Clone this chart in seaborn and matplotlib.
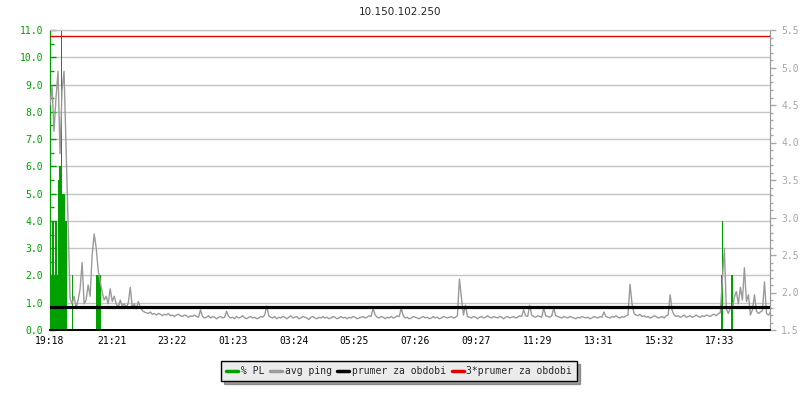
import numpy as np
import matplotlib
matplotlib.use("Agg")
import matplotlib.pyplot as plt
from matplotlib.lines import Line2D
from matplotlib.ticker import MultipleLocator
import seaborn as sns

# avg ping (ms), one sample every 4 minutes starting at 19:18
ping = [
    # 19:18 - 22:30
    4.50, 4.75, 4.15, 4.60, 4.95, 3.85, 4.70, 4.95, 3.95, 2.95,
    1.92, 1.85, 1.95, 1.80, 1.90, 2.05, 2.40, 1.85, 1.90, 2.10,
    1.95, 2.50, 2.78, 2.60, 2.30, 2.15, 2.00, 1.90, 1.95, 1.85,
    2.05, 1.88, 1.95, 1.85, 1.80, 1.90, 1.82, 1.85, 1.80, 1.86,
    2.07, 1.80, 1.85, 1.78, 1.88, 1.80, 1.76, 1.74,
    # quiet part
    1.73, 1.72, 1.74, 1.71, 1.72, 1.70, 1.72, 1.71, 1.69, 1.71,
    1.70, 1.72, 1.69, 1.70, 1.68, 1.70, 1.71, 1.69, 1.68, 1.70,
    1.69, 1.67, 1.69, 1.68, 1.70, 1.68, 1.67, 1.77, 1.68, 1.66,
    1.67, 1.69, 1.66, 1.68, 1.67, 1.65, 1.67, 1.68, 1.66, 1.67,
    1.75, 1.68, 1.66, 1.67, 1.65, 1.68, 1.66, 1.67, 1.69, 1.66,
    1.65, 1.67, 1.68, 1.66, 1.67, 1.65, 1.66, 1.68, 1.67, 1.70,
    1.82, 1.69, 1.67, 1.66, 1.68, 1.65, 1.67, 1.66, 1.68, 1.67,
    1.65, 1.67, 1.69, 1.66, 1.67, 1.68, 1.65, 1.66, 1.68, 1.67,
    1.66, 1.64, 1.67, 1.68, 1.66, 1.65, 1.67, 1.66, 1.68, 1.66,
    1.67, 1.65, 1.66, 1.68, 1.67, 1.65, 1.66, 1.68, 1.66, 1.67,
    1.65, 1.67, 1.66, 1.68, 1.67, 1.65, 1.66, 1.67, 1.68, 1.66,
    1.67, 1.69, 1.68, 1.79, 1.70, 1.67, 1.66, 1.68, 1.67, 1.65,
    1.67, 1.66, 1.68, 1.66, 1.67, 1.69, 1.68, 1.79, 1.69, 1.66,
    1.67, 1.65, 1.66, 1.68, 1.67, 1.66, 1.65, 1.67, 1.68, 1.66,
    1.67, 1.65, 1.66, 1.68, 1.66, 1.67, 1.65, 1.66, 1.68, 1.67,
    1.66, 1.67, 1.68, 1.66, 1.67, 1.69, 2.18, 1.93, 1.70, 1.83,
    1.68, 1.67, 1.66, 1.68, 1.67, 1.65, 1.67, 1.68, 1.66, 1.67,
    1.69, 1.67, 1.66, 1.68, 1.67, 1.66, 1.68, 1.67, 1.65, 1.67,
    1.68, 1.66, 1.67, 1.68, 1.66, 1.67, 1.69, 1.68, 1.77, 1.69,
    1.68, 1.83, 1.70, 1.68, 1.67, 1.69, 1.68, 1.67, 1.79, 1.69,
    1.68, 1.67, 1.69, 1.79, 1.69, 1.68, 1.67, 1.66, 1.68, 1.67,
    1.66, 1.68, 1.67, 1.66, 1.65, 1.67, 1.66, 1.68, 1.67, 1.66,
    1.67, 1.65, 1.66, 1.68, 1.67, 1.66, 1.68, 1.67, 1.74, 1.68,
    1.67, 1.66, 1.68, 1.67, 1.69, 1.67, 1.66, 1.68, 1.67, 1.69,
    1.70, 2.11, 1.85, 1.72, 1.70, 1.69, 1.71, 1.68, 1.69, 1.67,
    1.68, 1.66, 1.67, 1.69, 1.68, 1.66, 1.67, 1.68, 1.66, 1.69,
    1.70, 1.97, 1.76, 1.70, 1.68, 1.69, 1.67, 1.68, 1.70, 1.67,
    1.68, 1.69, 1.67, 1.68, 1.70, 1.68, 1.67, 1.69, 1.68, 1.70,
    1.69, 1.68, 1.70, 1.71, 1.69, 1.72, 1.73,
    # 17:30 onwards
    2.17, 2.59, 1.78, 1.72, 1.80, 1.78, 1.94, 2.01, 1.85, 2.07,
    1.90, 2.33, 1.88, 1.97, 1.70, 1.77, 1.97, 1.75, 1.72, 1.74,
    1.76, 2.14, 1.72, 1.70, 1.74,
]
step_min = 4

# packet loss (%), only the non-zero samples, minutes after 19:18
pl_min = [0, 2, 4, 6, 8, 10, 12, 14, 16, 18, 20, 22, 24, 26, 28, 30, 32,
          44, 92, 94, 96, 98, 100, 1337, 1339, 1357, 1359]
pl_val = [2.0, 2.0, 4.0, 4.0, 2.0, 4.0, 4.0, 2.0, 5.5, 6.0, 6.0, 11.0, 5.0,
          5.0, 5.0, 4.0, 4.0, 2.0, 2.0, 2.0, 2.0, 2.0, 2.0, 2.0, 4.0, 2.0, 2.0]

avg_period = 1.807
tick_min = [0, 123, 244, 365, 486, 607, 728, 849, 971, 1093, 1214, 1335]
tick_lbl = ["19:18", "21:21", "23:22", "01:23", "03:24", "05:25", "07:26",
            "09:27", "11:29", "13:31", "15:32", "17:33"]
title = "10.150.102.250"

green = "#00a000"
grey = "#9a9a9a"
red = "#e00000"

sns.set_style("white")
plt.rcParams["font.family"] = ["DejaVu Sans Mono"]

fig = plt.figure(figsize=(8, 4), dpi=100)
ax = fig.add_axes([50 / 800, 70 / 400, 720 / 800, 300 / 400])
ax2 = ax.twinx()

t = np.arange(len(ping)) * step_min

ax.bar(pl_min, pl_val, width=2, align="edge", color=green, linewidth=0, zorder=2)
sns.lineplot(x=t, y=ping, ax=ax2, color=grey, lw=1, legend=False, zorder=3)
ax2.axhline(avg_period, color="black", lw=2.3, zorder=4)
ax2.axhline(3 * avg_period, color=red, lw=1, zorder=4)

ax.set_xlim(0, 1435)
ax.set_ylim(0, 11)
ax2.set_ylim(1.5, 5.5)

ax.yaxis.set_major_locator(MultipleLocator(1))
ax.yaxis.set_minor_locator(MultipleLocator(0.5))
ax.yaxis.set_major_formatter(lambda v, p: f"{v:.1f}")
ax2.yaxis.set_major_locator(MultipleLocator(0.5))
ax2.yaxis.set_minor_locator(MultipleLocator(0.1))
ax2.yaxis.set_major_formatter(lambda v, p: f"{v:.1f}")
ax.set_xticks(tick_min)
ax.set_xticklabels(tick_lbl)

ax.grid(axis="y", color="#c4c4c4", lw=1)
ax.set_axisbelow(True)

ax.tick_params(axis="y", which="both", direction="in", colors=green,
               labelsize=7, pad=5)
ax.tick_params(axis="y", which="major", length=4, width=1)
ax.tick_params(axis="y", which="minor", length=3, width=1)
ax.tick_params(axis="x", direction="in", length=5, width=1, colors="black",
               labelsize=7, pad=4)
ax2.tick_params(axis="y", which="both", direction="out", colors="#a8a8a8",
                labelsize=7, pad=4)
ax2.tick_params(axis="y", which="major", length=4, width=1)
ax2.tick_params(axis="y", which="minor", length=2, width=1)
ax.tick_params(axis="y", which="both", left=True)

for a in (ax, ax2):
    a.spines["left"].set_color(green)
    a.spines["right"].set_color(grey)
    a.spines["bottom"].set_color("black")
    a.spines["top"].set_color("#c4c4c4")
    a.spines["bottom"].set_linewidth(1.2)

fig.text(0.5, 0.97, title, ha="center", va="center", fontsize=7.5,
         family=["Liberation Sans Narrow", "DejaVu Sans"])

handles = [
    Line2D([], [], color=green, lw=2.5),
    Line2D([], [], color=grey, lw=2.5),
    Line2D([], [], color="black", lw=2.5),
    Line2D([], [], color=red, lw=2.5),
]
labels = ["% PL", "avg ping", "prumer za obdobi", "3*prumer za obdobi"]
leg = fig.legend(handles, labels, loc="center", bbox_to_anchor=(0.499, 0.072),
                 ncol=4, fontsize=7, frameon=True, fancybox=False, shadow=True,
                 handlelength=1.2, handletextpad=0.3, columnspacing=0.6,
                 borderpad=0.5, borderaxespad=0)
leg.get_frame().set_facecolor("#ebebeb")
leg.get_frame().set_edgecolor("black")
leg.get_frame().set_alpha(1)

fig.savefig("out.png", dpi=100)
